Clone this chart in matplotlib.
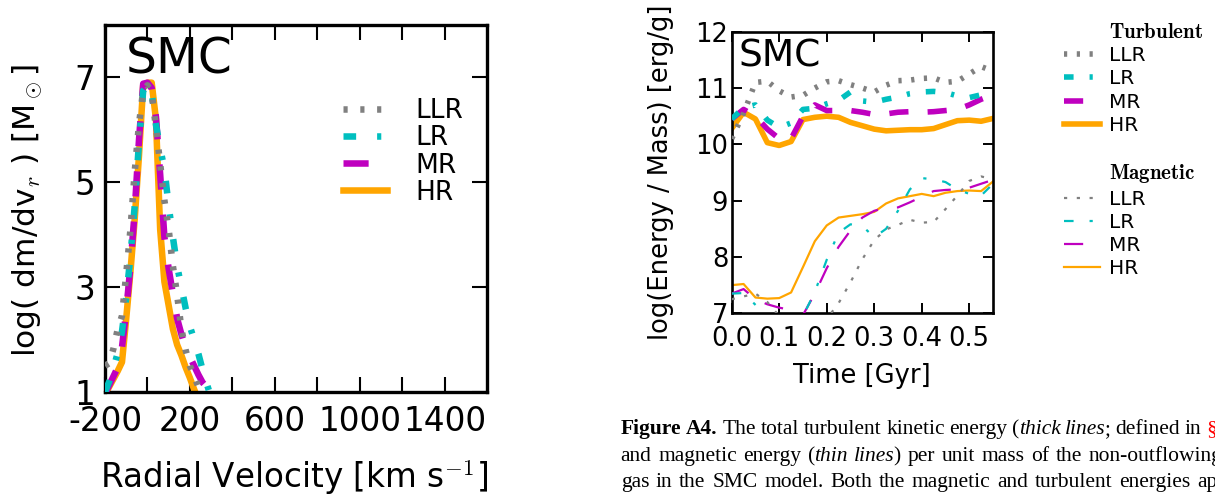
import matplotlib
matplotlib.use("Agg")
import matplotlib.pyplot as plt
from matplotlib.lines import Line2D

plt.rcParams.update({
    "font.family": "DejaVu Sans",
    "mathtext.fontset": "cm",
    "lines.scale_dashes": False,
})

# ---------------- data: radial velocity distribution ----------------
vr = [-200, -180, -160, -140, -120, -100, -80, -60, -40, -20, 0, 20, 40,
      60, 80, 100, 120, 140, 160, 180, 200, 220, 240, 260, 280, 300]
vdist_llr = [1.50, 1.55, 1.83, 2.20, 2.45, 3.25, 4.10, 5.20, 6.10, 6.75, 6.85, 6.70, 6.05,
             5.35, 4.65, 4.10, 3.40, 2.85, 2.20, 1.80, 1.50, 1.30, 1.10, 0.90, 0.80, 0.70]
vdist_lr = [1.00, 1.20, 1.45, 1.75, 2.15, 2.80, 3.60, 4.55, 5.75, 6.75, 6.87, 6.70, 6.10,
            5.65, 5.25, 4.55, 3.95, 3.40, 3.00, 2.60, 2.25, 2.00, 1.73, 1.42, 1.15, 0.90]
vdist_mr = [0.97, 1.13, 1.30, 1.47, 1.85, 2.55, 3.40, 4.45, 5.80, 6.88, 6.90, 6.80, 6.25,
            5.15, 3.95, 3.35, 2.87, 2.40, 2.10, 1.83, 1.67, 1.50, 1.33, 1.18, 1.09, 0.95]
vdist_hr = [0.95, 1.10, 1.25, 1.40, 1.57, 2.40, 3.30, 4.30, 5.50, 6.85, 6.90, 6.90, 6.20,
            4.10, 3.10, 2.65, 2.20, 1.90, 1.70, 1.47, 1.27, 1.05, 0.85, 0.70, 0.60, 0.50]

vr_ticks = [-200, 0, 200, 400, 600, 800, 1000, 1200, 1400]
vr_ticklabels = ["-200", "", "200", "", "600", "", "1000", "", "1400"]
vdist_ticks = [1, 3, 5, 7]

# ---------------- data: energy per unit mass vs time ----------------
time_gyr = [0.000, 0.025, 0.050, 0.075, 0.100, 0.125, 0.150, 0.175, 0.200, 0.225, 0.250, 0.275,
            0.300, 0.325, 0.350, 0.375, 0.400, 0.425, 0.450, 0.475, 0.500, 0.525, 0.550]
turb_llr = [10.10, 10.55, 11.10, 11.12, 10.95, 10.84, 10.87, 11.00, 11.11, 11.13, 11.06, 11.00,
            10.93, 11.05, 11.13, 11.14, 11.17, 11.18, 11.10, 11.12, 11.25, 11.38, 11.30]
turb_lr = [10.45, 10.65, 10.70, 10.43, 10.30, 10.38, 10.62, 10.64, 10.72, 10.78, 10.93, 10.77,
           10.75, 10.80, 10.84, 10.90, 10.93, 10.94, 10.92, 10.86, 10.83, 10.88, 10.96]
turb_mr = [10.45, 10.62, 10.50, 10.27, 10.10, 10.10, 10.50, 10.70, 10.60, 10.60, 10.60, 10.57,
           10.53, 10.54, 10.57, 10.58, 10.57, 10.58, 10.60, 10.62, 10.70, 10.80, 10.88]
turb_hr = [10.28, 10.57, 10.45, 10.03, 9.98, 10.05, 10.44, 10.48, 10.50, 10.48, 10.39, 10.33,
           10.27, 10.24, 10.25, 10.26, 10.26, 10.28, 10.35, 10.42, 10.43, 10.41, 10.46]
mag_llr = [7.25, 7.30, 7.35, 7.20, 6.95, 6.85, 6.80, 6.82, 6.90, 7.18, 7.55, 7.96,
           8.30, 8.49, 8.57, 8.66, 8.61, 8.62, 8.85, 9.09, 9.35, 9.43, 9.38]
mag_lr = [7.35, 7.36, 7.15, 6.95, 6.90, 6.88, 6.95, 7.38, 7.95, 8.43, 8.58, 8.55,
          8.35, 8.50, 8.82, 9.20, 9.40, 9.38, 9.33, 9.20, 9.12, 9.09, 9.30]
mag_mr = [7.35, 7.43, 7.25, 7.16, 7.10, 7.06, 6.97, 7.35, 7.80, 8.18, 8.47, 8.70,
          8.82, 8.87, 8.88, 8.97, 9.07, 9.17, 9.19, 9.20, 9.23, 9.30, 9.37]
mag_hr = [7.50, 7.52, 7.28, 7.26, 7.27, 7.37, 7.82, 8.28, 8.56, 8.70, 8.73, 8.76,
          8.80, 8.95, 9.04, 9.08, 9.12, 9.08, 9.14, 9.17, 9.18, 9.17, 9.34]

time_ticks = [0.0, 0.1, 0.2, 0.3, 0.4, 0.5]
energy_ticks = [7, 8, 9, 10, 11, 12]

run_names = ["LLR", "LR", "MR", "HR"]
run_colors = ["grey", "c", "m", "orange"]

# dash patterns (points) for the two panels
dash_left = [(0, (3.0, 9.1)), (0, (9.1, 15.1, 3.0, 15.1)), (0, (18.1, 18.1)), "-"]
dash_right = [(0, (2.3, 6.9)), (0, (6.9, 11.5, 2.3, 11.5)), (0, (13.8, 13.8)), "-"]

W, H = 1215, 496
fig = plt.figure(figsize=(W / 100, H / 100), dpi=100)

# ---------------- left panel ----------------
ax1 = fig.add_axes([105 / W, 1 - 392 / H, 382 / W, 367 / H])
vdists = [vdist_llr, vdist_lr, vdist_mr, vdist_hr]
lines1 = []
for i in range(4):
    ln, = ax1.plot(vr, vdists[i], color=run_colors[i], linestyle=dash_left[i],
                   lw=4.7, label=run_names[i], zorder=5 - i)
    lines1.append(ln)
ax1.set_xlim(-200, 1600)
ax1.set_ylim(1, 8)
ax1.set_xticks(vr_ticks)
ax1.set_xticklabels(vr_ticklabels)
ax1.set_yticks(vdist_ticks)
ax1.set_yticklabels([str(v) for v in vdist_ticks])
ax1.tick_params(direction="in", top=True, right=True, length=10.5, width=1.5,
                labelsize=23.5)
ax1.tick_params(axis="x", pad=9.5)
ax1.tick_params(axis="y", pad=7)
for sp in ax1.spines.values():
    sp.set_linewidth(2.4)
ax1.set_xlabel(r"Radial Velocity [km s$^{-1}$]", fontsize=23.5)
ax1.xaxis.set_label_coords(0.496, -0.177)
ax1.set_ylabel(r"log( dm/dv$_r$ ) [M$_\odot$]", fontsize=22.5)
ax1.yaxis.set_label_coords(-0.16, 0.495)
ax1.text(0.054, 0.869, "SMC", transform=ax1.transAxes, fontsize=35, va="baseline")
ax1.legend(handles=lines1, loc="upper left", bbox_to_anchor=(0.623, 0.800),
           frameon=False, fontsize=19, handlelength=1.67, handletextpad=1.06,
           labelspacing=0.04, borderaxespad=0, borderpad=0)

# ---------------- right panel ----------------
ax2 = fig.add_axes([731.7 / W, 1 - 313.3 / H, 261.3 / W, 281.6 / H])
turbs = [turb_llr, turb_lr, turb_mr, turb_hr]
mags = [mag_llr, mag_lr, mag_mr, mag_hr]
turb_lines, mag_lines = [], []
for i in range(4):
    ln, = ax2.plot(time_gyr, turbs[i], color=run_colors[i], linestyle=dash_right[i],
                   lw=4.0, label=run_names[i], zorder=5 - i)
    turb_lines.append(ln)
for i in range(4):
    ln, = ax2.plot(time_gyr, mags[i], color=run_colors[i], linestyle=dash_right[i],
                   lw=1.6, label=run_names[i], zorder=5 - i)
    mag_lines.append(ln)
ax2.set_xlim(0, 0.55)
ax2.set_ylim(7, 12)
ax2.set_xticks(time_ticks)
ax2.set_xticklabels([f"{v:.1f}" for v in time_ticks])
ax2.set_yticks(energy_ticks)
ax2.set_yticklabels([str(v) for v in energy_ticks])
ax2.tick_params(direction="in", top=True, right=True, length=7.5, width=1.4,
                labelsize=18.5)
ax2.tick_params(axis="x", pad=9.5)
ax2.tick_params(axis="y", pad=2.5)
for sp in ax2.spines.values():
    sp.set_linewidth(1.9)
ax2.set_xlabel("Time [Gyr]", fontsize=18.5)
ax2.xaxis.set_label_coords(0.5, -0.178)
ax2.set_ylabel("log(Energy / Mass) [erg/g]", fontsize=18.5)
ax2.yaxis.set_label_coords(-0.221, 0.5)
ax2.text(0.025, 0.876, "SMC", transform=ax2.transAxes, fontsize=27, va="baseline")

blank = Line2D([], [], linestyle="none")
leg_handles = ([blank] + turb_lines + [blank, blank] + mag_lines)
leg_labels = ([r"$\mathbf{Turbulent}$"] + run_names + [" ", r"$\mathbf{Magnetic}$"] + run_names)
leg = fig.legend(leg_handles, leg_labels, loc="upper left",
                 bbox_to_anchor=(1064 / W, 1 - 22 / H), frameon=False, fontsize=14.5,
                 handlelength=1.79, handletextpad=0.46, labelspacing=0.21,
                 borderaxespad=0, borderpad=0)
for txt in leg.get_texts():
    if "mathbf" in txt.get_text():
        txt.set_fontsize(15)

# ---------------- caption (justified lines) ----------------
cap_fs = 15.5
cap_family = "Liberation Serif"
cap_x0 = 620.7
cap_y = [1 - 434 / H, 1 - 461 / H, 1 - 487 / H]
cap_right = [1217, 1222, 1217]   # right margin of each justified line, pixels
R_ = dict(weight="normal", style="normal")
B_ = dict(weight="bold", style="normal")
I_ = dict(weight="normal", style="italic")


def plain(words, color="black"):
    return [[(w, R_, color)] for w in words.split()]


cap_words = [
    [[("Figure", B_, "black")], [("A4.", B_, "black")]]
    + plain("The total turbulent kinetic energy")
    + [[("(", R_, "black"), ("thick", I_, "black")],
       [("lines", I_, "black"), (";", R_, "black")]]
    + plain("defined in") + [[("\u00a7", R_, "red")]],
    plain("and magnetic energy")
    + [[("(", R_, "black"), ("thin", I_, "black")],
       [("lines", I_, "black"), (")", R_, "black")]]
    + plain("per unit mass of the non-outflowing"),
    plain("gas in the SMC model. Both the magnetic and turbulent energies ap"),
]

renderer = fig.canvas.get_renderer()


def draw_word(x, y, word):
    """Draw the pieces of one word side by side; return the artists and right edge."""
    arts = []
    for s, style, col in word:
        t = fig.text(x / W, y, s, family=cap_family, fontsize=cap_fs, color=col,
                     va="baseline", ha="left", **style)
        x = t.get_window_extent(renderer).x1 - 1.0
        arts.append(t)
    return arts, x


for words, y, right in zip(cap_words, cap_y, cap_right):
    # measure natural widths first
    widths = []
    for word in words:
        arts, x1 = draw_word(0, y, word)
        widths.append(x1 + 1.0)
        for a in arts:
            a.remove()
    gap = (right - cap_x0 - sum(widths)) / (len(words) - 1)
    x = cap_x0
    for word, w in zip(words, widths):
        draw_word(x, y, word)
        x += w + gap

fig.savefig("out.png", dpi=100)
